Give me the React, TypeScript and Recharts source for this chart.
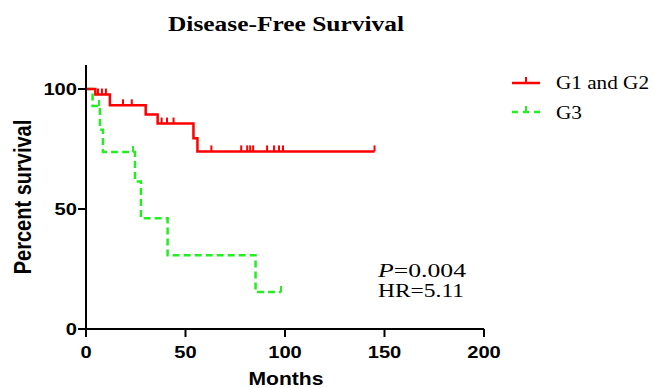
import { LineChart, Line, XAxis, YAxis } from 'recharts';

// survival curves, months vs percent survival (c = 1 marks a censored tick)
const redMonths = [0, 4.7, 6, 8, 10, 12, 18.6, 23, 30, 36, 38, 40.7, 44, 54, 56, 63, 78, 81, 82.5, 84, 91, 94.5, 97, 99, 145];
const redSurvival = [100, 97.7, 97.7, 97.7, 97.7, 93.2, 93.2, 93.2, 89.4, 85.6, 85.6, 85.6, 85.6, 79.5, 74, 74, 74, 74, 74, 74, 74, 74, 74, 74, 74];
const redCensored = [0, 0, 1, 1, 1, 0, 1, 1, 0, 0, 1, 1, 1, 0, 0, 1, 1, 1, 1, 1, 1, 1, 1, 1, 1];

const greenMonths = [0, 3.3, 6.5, 7, 8.5, 23.6, 24.6, 27.6, 41, 85.2, 98];
const greenSurvival = [100, 92.9, 92.9, 83, 73.8, 73.8, 61.5, 46.1, 30.7, 15.4, 15.4];
const greenCensored = [0, 0, 1, 0, 0, 1, 0, 0, 0, 0, 1];

const xTicks = [0, 50, 100, 150, 200];
const yTicks = [0, 50, 100];

const RED = '#ff0000';
const GREEN = '#22ee22';

const build = (m: number[], s: number[], c: number[]) =>
  m.map((t, i) => ({ t, s: s[i], c: c[i] }));

const redData = build(redMonths, redSurvival, redCensored);
const greenData = build(greenMonths, greenSurvival, greenCensored);

const censorDot = (color: string) => (props: any) => {
  const { cx, cy, payload, index } = props;
  if (!payload || !payload.c) return <g key={index} />;
  return <line key={index} x1={cx} x2={cx} y1={cy} y2={cy - 6} stroke={color} strokeWidth={2} />;
};

const sans = 'Liberation Sans, Arial, sans-serif';
const serif = 'Liberation Serif, Times New Roman, serif';

// the reference text is a bit wider than the font, so stretch it with textLength
const XTick = (props: any) => {
  const { x, y, payload } = props;
  const s = String(payload.value);
  return (
    <text x={x} y={y} dy={19} textAnchor="middle" fontFamily={sans} fontSize={17} fontWeight="bold" fill="#000"
      textLength={s.length * 11.2} lengthAdjust="spacingAndGlyphs">
      {s}
    </text>
  );
};

const YTick = (props: any) => {
  const { x, y, payload } = props;
  const s = String(payload.value);
  return (
    <text x={x + 1} y={y} dy={6} textAnchor="end" fontFamily={sans} fontSize={17} fontWeight="bold" fill="#000"
      textLength={s.length * 11.2} lengthAdjust="spacingAndGlyphs">
      {s}
    </text>
  );
};

export default function App() {
  return (
    <div style={{ position: 'absolute', left: 0, top: 0, width: 655, height: 388 }}>
      <LineChart width={655} height={388} margin={{ top: 65, right: 171, bottom: 29, left: 26 }}>
        <XAxis
          dataKey="t"
          type="number"
          domain={[0, 200]}
          ticks={xTicks}
          allowDuplicatedCategory={false}
          axisLine={{ stroke: '#000', strokeWidth: 2 }}
          tickLine={{ stroke: '#000', strokeWidth: 2 }}
          tickSize={8}
          tick={<XTick />}
          height={30}
        />
        <YAxis
          dataKey="s"
          type="number"
          domain={[0, 110]}
          ticks={yTicks}
          axisLine={{ stroke: '#000', strokeWidth: 2 }}
          tickLine={{ stroke: '#000', strokeWidth: 2 }}
          tickSize={8}
          tick={<YTick />}
          width={60}
        />
        <Line
          data={greenData}
          dataKey="s"
          type="stepAfter"
          stroke={GREEN}
          strokeWidth={2.5}
          strokeDasharray="7 4"
          dot={censorDot(GREEN)}
          activeDot={false}
          isAnimationActive={false}
        />
        <Line
          data={redData}
          dataKey="s"
          type="stepAfter"
          stroke={RED}
          strokeWidth={2.5}
          dot={censorDot(RED)}
          activeDot={false}
          isAnimationActive={false}
        />
      </LineChart>
      <svg width={655} height={388} style={{ position: 'absolute', left: 0, top: 0, pointerEvents: 'none' }}>
        <text x={286} y={31} textAnchor="middle" fontFamily={serif} fontSize={20} fontWeight="bold" fill="#000"
          textLength={236} lengthAdjust="spacingAndGlyphs">
          Disease-Free Survival
        </text>
        <text transform="translate(31,197) rotate(-90) scale(1,1.15)" textAnchor="middle" fontFamily={sans} fontSize={20} fontWeight="bold" fill="#000">
          Percent survival
        </text>
        <text x={286} y={385} textAnchor="middle" fontFamily={sans} fontSize={19} fontWeight="bold" fill="#000"
          textLength={75} lengthAdjust="spacingAndGlyphs">
          Months
        </text>

        {/* legend */}
        <line x1={512} x2={540} y1={83} y2={83} stroke={RED} strokeWidth={2.5} />
        <line x1={526} x2={526} y1={83} y2={77} stroke={RED} strokeWidth={2} />
        <text x={556} y={89} fontFamily={serif} fontSize={18} fill="#000" textLength={93} lengthAdjust="spacingAndGlyphs">G1 and G2</text>
        <line x1={512} x2={540} y1={112} y2={112} stroke={GREEN} strokeWidth={2.5} strokeDasharray="6 5" />
        <line x1={526} x2={526} y1={112} y2={106} stroke={GREEN} strokeWidth={2} />
        <text x={556} y={119} fontFamily={serif} fontSize={18} fill="#000" textLength={26} lengthAdjust="spacingAndGlyphs">G3</text>

        <text x={378} y={277} fontFamily={serif} fontSize={19} fill="#000" textLength={88} lengthAdjust="spacingAndGlyphs">
          <tspan fontStyle="italic">P</tspan>=0.004
        </text>
        <text x={378} y={297} fontFamily={serif} fontSize={19} fill="#000" textLength={86} lengthAdjust="spacingAndGlyphs">HR=5.11</text>
      </svg>
    </div>
  );
}
